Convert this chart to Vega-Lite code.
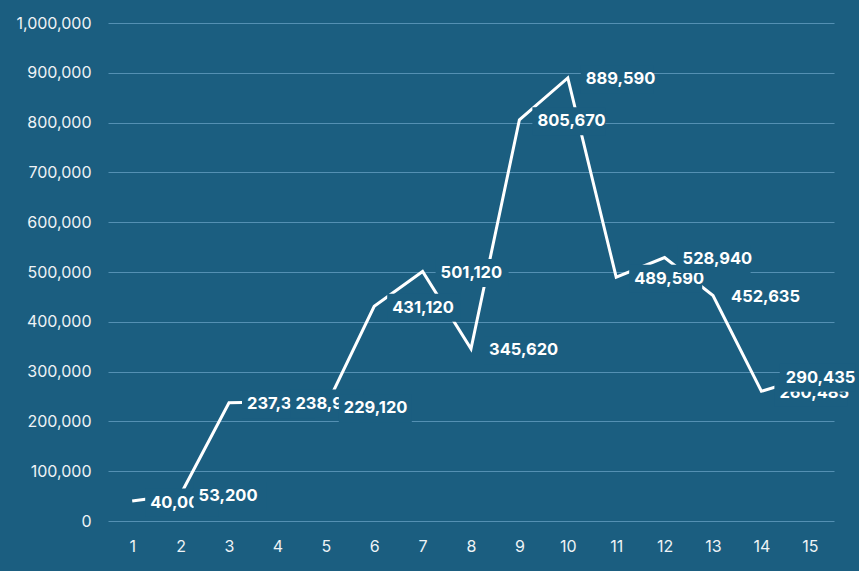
{
  "$schema": "https://vega.github.io/schema/vega-lite/v6.json",
  "width": 726,
  "height": 498,
  "autosize": "none",
  "padding": {"left": 108, "top": 23, "right": 25, "bottom": 50},
  "background": "#1b5e80",
  "config": {"view": {"stroke": null}, "font": "Inter"},
  "data": {
    "values": [
      {"period": 1, "value": 40000},
      {"period": 2, "value": 53200},
      {"period": 3, "value": 237350},
      {"period": 4, "value": 238950},
      {"period": 5, "value": 229120},
      {"period": 6, "value": 431120},
      {"period": 7, "value": 501120},
      {"period": 8, "value": 345620},
      {"period": 9, "value": 805670},
      {"period": 10, "value": 889590},
      {"period": 11, "value": 489590},
      {"period": 12, "value": 528940},
      {"period": 13, "value": 452635},
      {"period": 14, "value": 260485},
      {"period": 15, "value": 290435}
    ]
  },
  "encoding": {
    "x": {
      "field": "period",
      "type": "quantitative",
      "scale": {"domain": [0.5, 15.5], "nice": false, "zero": false},
      "axis": {
        "title": null,
        "values": [1, 2, 3, 4, 5, 6, 7, 8, 9, 10, 11, 12, 13, 14, 15],
        "format": "d",
        "grid": false,
        "ticks": false,
        "tickSize": 0,
        "domain": false,
        "labelPadding": 17,
        "labelFont": "Inter",
        "labelFontSize": 16,
        "labelColor": "#eef3f6"
      }
    },
    "y": {
      "field": "value",
      "type": "quantitative",
      "scale": {"domain": [0, 1000000], "nice": false},
      "axis": {
        "title": null,
        "values": [0, 100000, 200000, 300000, 400000, 500000, 600000, 700000, 800000, 900000, 1000000],
        "format": ",d",
        "grid": true,
        "gridColor": "#5490b3",
        "gridWidth": 1,
        "ticks": false,
        "tickSize": 0,
        "domain": false,
        "labelPadding": 17,
        "labelFont": "Inter",
        "labelFontSize": 16,
        "labelColor": "#eef3f6"
      }
    }
  },
  "layer": [
    {
      "mark": {"type": "line", "color": "#ffffff", "strokeWidth": 3, "strokeJoin": "miter", "strokeCap": "butt"}
    },
    {
      "transform": [{"filter": {"field": "period", "oneOf": [1, 3, 6, 7, 8, 9, 10, 11, 13, 14]}}],
      "mark": {"type": "rect", "width": 73, "height": 28, "xOffset": 49.5, "yOffset": 1.5, "color": "#1b5e80"}
    },
    {
      "transform": [{"filter": {"field": "period", "oneOf": [1, 3, 6, 7, 8, 9, 10, 11, 13, 14]}}],
      "mark": {"type": "text", "align": "left", "baseline": "middle", "dx": 18, "dy": 1.5, "font": "Inter", "fontSize": 16.5, "fontWeight": "bold", "color": "#ffffff"},
      "encoding": {"text": {"field": "value", "type": "quantitative", "format": ",d"}}
    },
    {
      "transform": [{"filter": {"field": "period", "oneOf": [2, 4, 12]}}],
      "mark": {"type": "rect", "width": 73, "height": 28, "xOffset": 49.5, "yOffset": 1.5, "color": "#1b5e80"}
    },
    {
      "transform": [{"filter": {"field": "period", "oneOf": [2, 4, 12]}}],
      "mark": {"type": "text", "align": "left", "baseline": "middle", "dx": 18, "dy": 1.5, "font": "Inter", "fontSize": 16.5, "fontWeight": "bold", "color": "#ffffff"},
      "encoding": {"text": {"field": "value", "type": "quantitative", "format": ",d"}}
    },
    {
      "transform": [{"filter": {"field": "period", "oneOf": [5]}}],
      "mark": {"type": "rect", "width": 73, "height": 28, "xOffset": 49.5, "yOffset": 1.5, "color": "#1b5e80"}
    },
    {
      "transform": [{"filter": {"field": "period", "oneOf": [5]}}],
      "mark": {"type": "text", "align": "left", "baseline": "middle", "dx": 18, "dy": 1.5, "font": "Inter", "fontSize": 16.5, "fontWeight": "bold", "color": "#ffffff"},
      "encoding": {"text": {"field": "value", "type": "quantitative", "format": ",d"}}
    },
    {
      "transform": [{"filter": {"field": "period", "oneOf": [15]}}],
      "mark": {"type": "rect", "width": 76, "height": 28, "xOffset": 8, "yOffset": 1.5, "color": "#1b5e80"}
    },
    {
      "transform": [{"filter": {"field": "period", "oneOf": [15]}}],
      "mark": {"type": "text", "align": "left", "baseline": "middle", "dx": -24, "dy": 1.5, "font": "Inter", "fontSize": 16.5, "fontWeight": "bold", "color": "#ffffff"},
      "encoding": {"text": {"field": "value", "type": "quantitative", "format": ",d"}}
    }
  ]
}
